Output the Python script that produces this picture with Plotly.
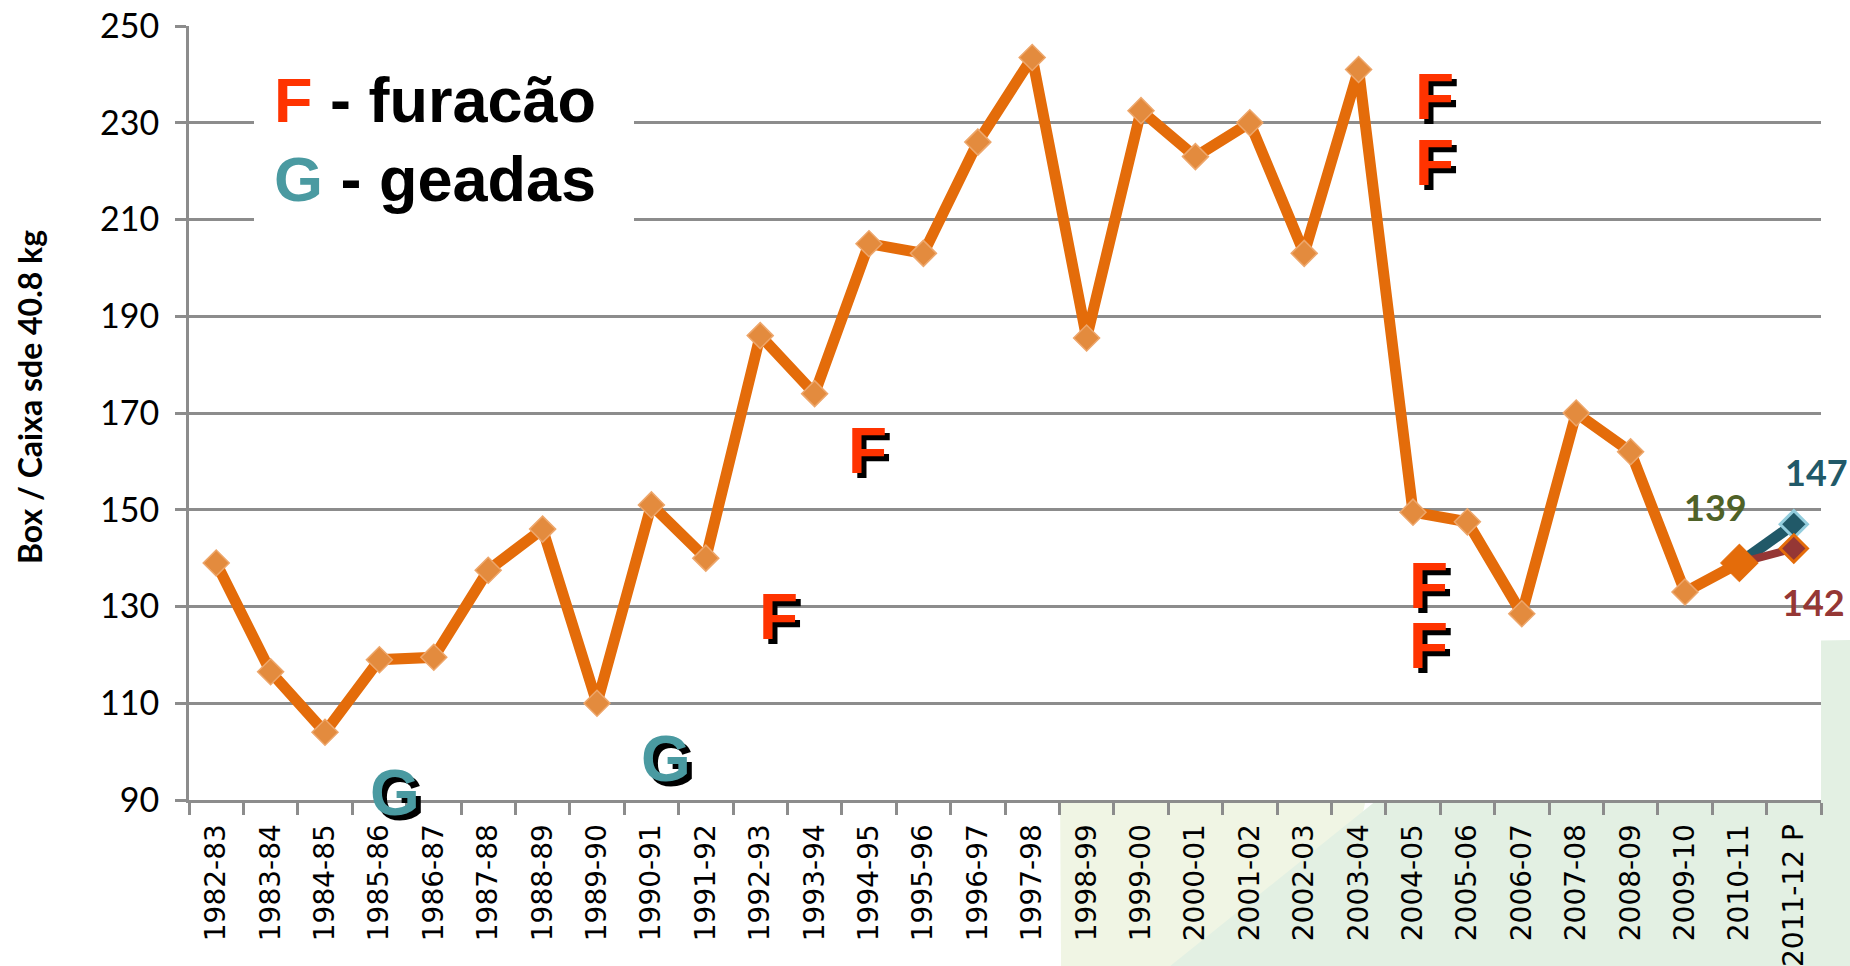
import plotly.graph_objects as go

# Season labels on the category axis
seasons = [
    "1982-83", "1983-84", "1984-85", "1985-86", "1986-87", "1987-88", "1988-89",
    "1989-90", "1990-91", "1991-92", "1992-93", "1993-94", "1994-95", "1995-96",
    "1996-97", "1997-98", "1998-99", "1999-00", "2000-01", "2001-02", "2002-03",
    "2003-04", "2004-05", "2005-06", "2006-07", "2007-08", "2008-09", "2009-10",
    "2010-11", "2011-12 P",
]

# Production (boxes of 40.8 kg, millions) from 1982-83 through 2010-11
production = [
    139, 116.5, 104, 119, 119.5, 137.5, 146, 110, 151, 140,
    186, 174, 205, 203, 226, 243.5, 185.5, 232.5, 223, 230,
    203, 241, 149.5, 147.5, 128.5, 170, 162, 133, 139,
]

# Two projections for 2011-12
proj_high = 147
proj_low = 142

# Weather events: category position and height of each letter
hurricanes_x = [22.4, 22.4, 11.97, 10.33, 22.29, 22.29]
hurricanes_y = [235.4, 221.7, 162.1, 127.8, 134.2, 121.8]
frosts_x = [3.29, 8.27]
frosts_y = [91.4, 98.5]

ORANGE = "#E46C0A"
MARKER_ORANGE = "#E38B3E"
TEAL = "#215968"
WINE = "#953735"
OLIVE = "#4F6228"
F_RED = "#FF3300"
G_TEAL = "#4A9AA1"
GRID = "#8C8C8C"

PLOT_L, PLOT_R, PLOT_T, PLOT_B = 189, 1821, 26, 800
W, H = 1850, 966


def px_x(p):
    return (p - PLOT_L) / (PLOT_R - PLOT_L)


def px_y(p):
    return (PLOT_B - p) / (PLOT_B - PLOT_T)


fig = go.Figure()

last = len(production) - 1

# Projection branches
fig.add_trace(go.Scatter(
    x=[seasons[last], seasons[last + 1]], y=[production[last], proj_high],
    mode="lines",
    line=dict(color=TEAL, width=11),
    hoverinfo="skip",
))
fig.add_trace(go.Scatter(
    x=[seasons[last + 1]], y=[proj_high], mode="markers",
    marker=dict(symbol="diamond", size=21, color=TEAL,
                line=dict(color="#93CDDD", width=3)),
    hoverinfo="skip",
))
fig.add_trace(go.Scatter(
    x=[seasons[last], seasons[last + 1]], y=[production[last], proj_low],
    mode="lines",
    line=dict(color=WINE, width=8),
    hoverinfo="skip",
))
fig.add_trace(go.Scatter(
    x=[seasons[last + 1]], y=[proj_low], mode="markers",
    marker=dict(symbol="diamond", size=21, color=WINE,
                line=dict(color=ORANGE, width=3)),
    hoverinfo="skip",
))

# Historical series
fig.add_trace(go.Scatter(
    x=seasons[:last + 1], y=production,
    mode="lines",
    line=dict(color=ORANGE, width=11),
))
fig.add_trace(go.Scatter(
    x=seasons[:last], y=production[:last],
    mode="markers",
    marker=dict(symbol="diamond", size=20, color=MARKER_ORANGE,
                line=dict(color="#EDA66B", width=1.5)),
))
# Latest season, highlighted
fig.add_trace(go.Scatter(
    x=[seasons[last]], y=[production[last]],
    mode="markers",
    marker=dict(symbol="diamond", size=29, color=ORANGE,
                line=dict(color=ORANGE, width=1)),
))

shapes = []
# Decorative background swoosh (bottom right)
shapes.append(dict(
    type="path", xref="paper", yref="paper", layer="below",
    path="M {} {} L {} {} L {} {} L {} {} Z".format(
        px_x(1060), px_y(780), px_x(1370), px_y(780),
        px_x(1140), px_y(W), px_x(1066), px_y(W)),
    fillcolor="#F0F5E4", line=dict(width=0),
))
shapes.append(dict(
    type="path", xref="paper", yref="paper", layer="below",
    path="M {} {} L {} {} L {} {} L {} {} Z".format(
        px_x(1570), px_y(645), px_x(W + 5), px_y(640),
        px_x(W + 5), px_y(H + 5), px_x(1164), px_y(H + 5)),
    fillcolor="#E3F0E3", line=dict(width=0),
))
# Plot area background above the swoosh
shapes.append(dict(
    type="rect", xref="paper", yref="paper", layer="below",
    x0=0, x1=1, y0=0, y1=1, fillcolor="white", line=dict(width=0),
))
# Key box
shapes.append(dict(
    type="rect", xref="paper", yref="paper", layer="above",
    x0=px_x(254), x1=px_x(634), y0=px_y(245), y1=px_y(55),
    fillcolor="white", line=dict(width=0),
))

annotations = []
letter_font = dict(family="Liberation Sans", size=64, weight="bold")


def add_letter(x, y, letter, color):
    annotations.append(dict(
        x=x, y=y, xref="x", yref="y", text=letter, showarrow=False,
        xshift=5, yshift=-5, font=dict(letter_font, color="black"),
    ))
    annotations.append(dict(
        x=x, y=y, xref="x", yref="y", text=letter, showarrow=False,
        font=dict(letter_font, color=color),
    ))


for x, y in zip(hurricanes_x, hurricanes_y):
    add_letter(x, y, "F", F_RED)
for x, y in zip(frosts_x, frosts_y):
    add_letter(x, y, "G", G_TEAL)

key_font = dict(family="Liberation Sans", size=63, weight="bold", color="black")
annotations.append(dict(
    xref="paper", yref="paper", x=px_x(272), y=px_y(100),
    xanchor="left", yanchor="middle", showarrow=False,
    text=f"<span style='color:{F_RED}'>F</span> - furacão", font=key_font,
))
annotations.append(dict(
    xref="paper", yref="paper", x=px_x(272), y=px_y(179),
    xanchor="left", yanchor="middle", showarrow=False,
    text=f"<span style='color:{G_TEAL}'>G</span> - geadas", font=key_font,
))

# Value labels
value_font = dict(family="Lato", size=36, weight="bold")
annotations.append(dict(
    x=seasons[last], y=production[last], text=f"{production[last]:.0f}",
    showarrow=False, xshift=-24, yshift=56, font=dict(value_font, color=OLIVE),
))
annotations.append(dict(
    x=seasons[last + 1], y=proj_high, text=f"{proj_high:.0f}",
    showarrow=False, xshift=23, yshift=52, font=dict(value_font, color=TEAL),
))
annotations.append(dict(
    x=seasons[last + 1], y=proj_low, text=f"{proj_low:.0f}",
    showarrow=False, xshift=20, yshift=-54, font=dict(value_font, color=WINE),
))

# Vertical axis title
annotations.append(dict(
    xref="paper", yref="paper", x=px_x(29), y=px_y(397),
    xanchor="center", yanchor="middle", textangle=-90, showarrow=False,
    text="Box / Caixa sde 40.8 kg",
    font=dict(family="Lato", size=32, weight="bold", color="black"),
))

fig.update_layout(
    width=W, height=H,
    margin=dict(l=PLOT_L, r=W - PLOT_R, t=PLOT_T, b=H - PLOT_B, pad=0),
    paper_bgcolor="white", plot_bgcolor="rgba(0,0,0,0)",
    showlegend=False,
    shapes=shapes,
    annotations=annotations,
    xaxis=dict(
        type="category", categoryorder="array", categoryarray=seasons,
        range=[-0.5, len(seasons) - 0.5], automargin=False,
        tickangle=-90, tickson="boundaries", ticks="outside", ticklen=12,
        tickwidth=2.5, tickcolor=GRID, showline=True, linecolor=GRID,
        linewidth=3, showgrid=False, ticklabelstandoff=10,
        tickfont=dict(family="DejaVu Sans", size=28, color="black"),
    ),
    yaxis=dict(
        range=[90, 250], tick0=90, dtick=20, showgrid=True, gridcolor=GRID,
        gridwidth=2.5, zeroline=False, showline=True, linecolor=GRID,
        linewidth=3, ticks="outside", ticklen=11, tickwidth=2.5,
        tickcolor=GRID, ticklabelstandoff=9, automargin=False,
        tickfont=dict(family="Lato", size=34, color="black"),
    ),
)

fig.write_html("out.html")
